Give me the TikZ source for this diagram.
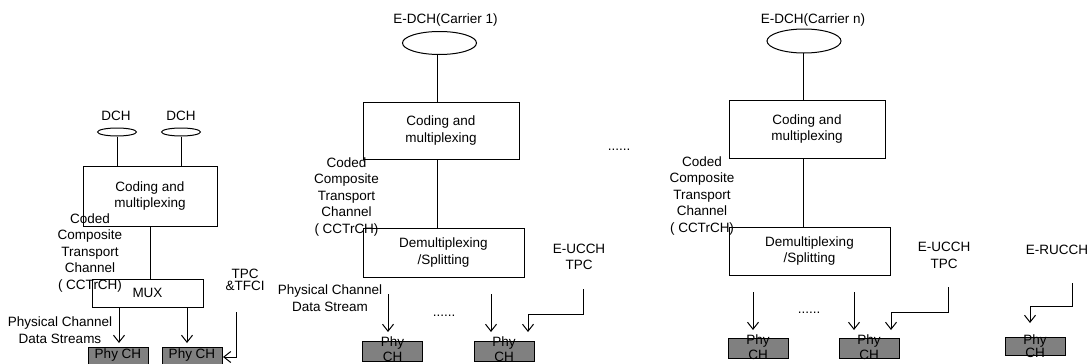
\documentclass[tikz,border=0pt]{standalone}
\usepackage{fontspec}
\setmainfont{Liberation Sans}
\usetikzlibrary{shapes.geometric,arrows.meta}
\begin{document}
\begin{tikzpicture}[x=1pt,y=-1pt,line width=1pt,
    font=\fontsize{13.5}{16.5}\selectfont,
    block/.style={draw,rectangle,inner sep=0pt,align=center},
    chan/.style={draw,ellipse,inner sep=0pt},
    phybox/.style={draw,rectangle,fill=gray,inner sep=0pt,minimum width=60pt},
    phytext/.style={inner sep=0pt,align=center,font=\fontsize{13.5}{15}\selectfont},
    lbl/.style={inner sep=0pt,align=center},
    tight/.style={inner sep=0pt,align=center,font=\fontsize{13.5}{12}\selectfont},
    arr/.style={-{Straight Barb[length=7pt,width=11pt]}}]
  \useasboundingbox (0,0) rectangle (1087,364);
  % left: DCH + MUX
  \node[lbl] (dch1) at (116,116) {DCH};
  \node[lbl] (dch2) at (181,116) {DCH};
  \node[chan,minimum width=39pt,minimum height=8pt] (e1) at (117,132) {};
  \node[chan,minimum width=39pt,minimum height=8pt] (e2) at (181,132) {};
  \node[block,minimum width=134pt,minimum height=60pt] (cm0) at (150,196) {Coding and\\multiplexing};
  \node[block,minimum width=111pt,minimum height=28pt] (mux) at (147.5,293) {MUX};
  \node[lbl] (cc0) at (90,253) {Coded\\Composite\\Transport\\Channel\\( CCTrCH)};
  \node[lbl] (ps0) at (60,330) {Physical Channel\\Data Streams};
  \node[tight] (tpc0) at (245,280) {TPC\\\&TFCI};
  \node[phybox,minimum height=17pt] (p01) at (118,355.5) {};
  \node[phybox,minimum height=17pt] (p02) at (192,355.5) {};
  \node[lbl] (p01t) at (p01) {Phy CH};
  \node[lbl] (p02t) at (p02) {Phy CH};
  \coordinate (a01) at (119,343);
  \coordinate (a02) at (187,343);
  \coordinate (t0) at (236,312);
  \coordinate (t0e) at (223,357);
  \draw (e1.south) -- (e1.south |- cm0.north);
  \draw (e2.south) -- (e2.south |- cm0.north);
  \draw (cm0.south) -- (cm0.south |- mux.north);
  \draw[arr] (a01 |- mux.south) -- (a01);
  \draw[arr] (a02 |- mux.south) -- (a02);
  \draw[arr] (t0) |- (t0e);
  % middle: carrier 1
  \node[lbl] (ed1) at (445.5,20) {E-DCH(Carrier 1)};
  \node[chan,minimum width=74pt,minimum height=23pt] (e3) at (439.5,43) {};
  \node[block,minimum width=156pt,minimum height=57pt] (cm1) at (441,130.5) {Coding and\\multiplexing};
  \node[block,minimum width=161pt,minimum height=49pt] (dm1) at (443.5,252.5) {Demultiplexing\\/Splitting};
  \node[lbl] (cc1) at (346.5,197) {Coded\\Composite\\Transport\\Channel\\( CCTrCH)};
  \node[lbl] (ps1) at (330,298) {Physical Channel\\Data Stream};
  \node[lbl] (dt1) at (444,316) {......};
  \node[lbl] (uc1) at (579,257) {E-UCCH\\TPC};
  \node[phybox,minimum height=20pt] (p11) at (392.5,351) {};
  \node[phybox,minimum height=20pt] (p12) at (504,351) {};
  \node[phytext] (p11t) at (392.5,349.5) {Phy\\CH};
  \node[phytext] (p12t) at (504,349.5) {Phy\\CH};
  \coordinate (c1) at (437,55);
  \coordinate (s11) at (388,294);
  \coordinate (a11) at (388,332);
  \coordinate (s12) at (491,294);
  \coordinate (a12) at (491,332);
  \coordinate (u1) at (583,289);
  \coordinate (u1b) at (528,314);
  \coordinate (u1e) at (528,332);
  \draw (c1) -- (c1 |- cm1.north);
  \draw (c1 |- cm1.south) -- (c1 |- dm1.north);
  \draw[arr] (s11) -- (a11);
  \draw[arr] (s12) -- (a12);
  \draw[arr] (u1) |- (u1b) -- (u1e);
  % dots between carriers
  \node[lbl] (dt0) at (619,150) {......};
  % right: carrier n
  \node[lbl] (edn) at (813,20) {E-DCH(Carrier n)};
  \node[chan,minimum width=74pt,minimum height=24pt] (e4) at (804,41) {};
  \node[block,minimum width=156pt,minimum height=58pt] (cm2) at (807,129) {Coding and\\multiplexing};
  \node[block,minimum width=161pt,minimum height=48pt] (dm2) at (809.5,251) {Demultiplexing\\/Splitting};
  \node[lbl] (cc2) at (702,196) {Coded\\Composite\\Transport\\Channel\\( CCTrCH)};
  \node[lbl] (dt2) at (809,313) {......};
  \node[lbl] (uc2) at (944,255.5) {E-UCCH\\TPC};
  \node[lbl] (ru2) at (1057,250) {E-RUCCH};
  \node[phybox,minimum height=20pt] (p21) at (758,348) {};
  \node[phybox,minimum height=20pt] (p22) at (869,348) {};
  \node[phybox,minimum height=18pt] (p23) at (1035,346) {};
  \node[phytext] (p21t) at (758,347) {Phy\\CH};
  \node[phytext] (p22t) at (869,347) {Phy\\CH};
  \node[phytext,font=\fontsize{13.5}{13}\selectfont] (p23t) at (1035,346.5) {Phy\\CH};
  \coordinate (c2) at (803,53);
  \coordinate (s21) at (753,292);
  \coordinate (a21) at (753,330);
  \coordinate (s22) at (854,292);
  \coordinate (a22) at (854,330);
  \coordinate (u2) at (948,287);
  \coordinate (u2b) at (891,312);
  \coordinate (u2e) at (891,330);
  \coordinate (r2) at (1072,283);
  \coordinate (r2b) at (1030,306);
  \coordinate (r2e) at (1030,323);
  \draw (c2) -- (c2 |- cm2.north);
  \draw (c2 |- cm2.south) -- (c2 |- dm2.north);
  \draw[arr] (s21) -- (a21);
  \draw[arr] (s22) -- (a22);
  \draw[arr] (u2) |- (u2b) -- (u2e);
  \draw[arr] (r2) |- (r2b) -- (r2e);
\end{tikzpicture}
\end{document}
